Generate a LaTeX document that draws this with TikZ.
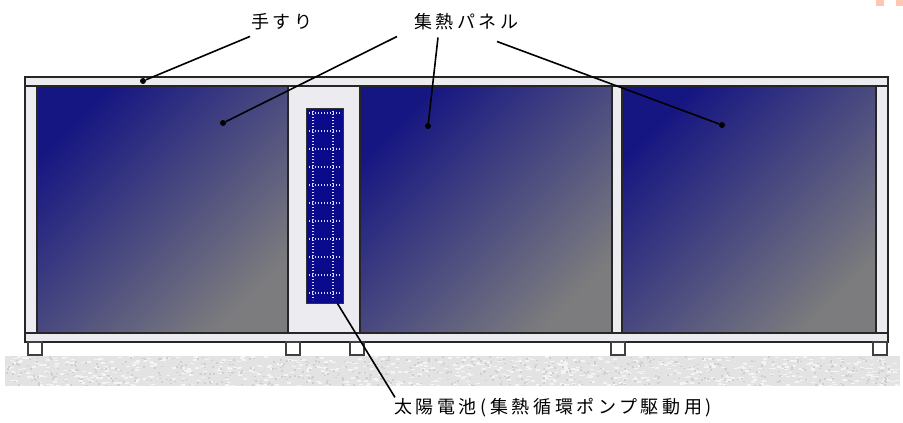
\documentclass[tikz,border=0pt]{standalone}
\usepackage{fontspec}
\newfontfamily\jpfont[LetterSpace=20]{Noto Sans CJK JP}

\definecolor{panelnavy}{RGB}{22,22,130}
\definecolor{panelgray}{RGB}{124,124,126}
\definecolor{framegray}{RGB}{236,236,240}
\definecolor{cellnavy}{RGB}{10,10,140}
\definecolor{tabpeach}{RGB}{255,198,178}

\tikzset{
  frame/.style={draw=black!85, line width=1.5pt, fill=framegray},
  panel/.style={draw=black!85, line width=1.5pt, top color=panelnavy, bottom color=panelgray, shading angle=45},
  foot/.style={draw=black!75, line width=1.5pt, fill=white},
  cellgrid/.style={white!85!blue, line width=1.2pt, dash pattern=on 1.2pt off 1.8pt},
  leader/.style={draw=black, line width=1.6pt},
  pin/.style={circle, fill=black, inner sep=0pt, minimum size=6pt},
  caption/.style={font=\jpfont\fontsize{18}{20}\selectfont, inner sep=1pt, anchor=west},
}

\begin{document}
\begin{tikzpicture}[x=1pt, y=-1pt]
	\useasboundingbox (0,0) rectangle (903,423);
	
	% ground
	\fill[gray!22] (5,356) rectangle (900,386);
	\pgfmathsetseed{42}
	\foreach \k in {1,...,700}{
		\pgfmathsetmacro\gx{5+890*rnd}
		\pgfmathsetmacro\gy{356+29*rnd}
		\fill[white!70!gray!30] (\gx,\gy) rectangle ++(4,1.5);
	}
	\foreach \k in {1,...,600}{
		\pgfmathsetmacro\gx{5+890*rnd}
		\pgfmathsetmacro\gy{356+29*rnd}
		\fill[gray!38] (\gx,\gy) rectangle ++(2,1.5);
	}
	
	% frame
	\draw[frame] (25,77) rectangle (888,86);
	\draw[frame] (25,86) rectangle (37,333);
	\draw[frame] (612,86) rectangle (622,333);
	\draw[frame] (876,86) rectangle (888,333);
	\draw[frame] (288,86) rectangle (360,333);
	\draw[frame] (25,333) rectangle (888,342);
	\foreach \fx in {35,293,357,618,880}
		\draw[foot] (\fx-7,342) rectangle (\fx+7,355);
	
	% collector panels
	\draw[panel] (37,86) rectangle (288,333);
	\draw[panel] (360,86) rectangle (612,333);
	\draw[panel] (622,86) rectangle (876,333);
	
	% solar module
	\node[draw=black!80, fill=cellnavy, line width=0.8pt, minimum width=37pt, minimum height=195pt, inner sep=0pt] (module) at (324.5,205.5) {};
	\foreach \gy in {113,131,...,293}
		\draw[cellgrid] (309,\gy) -- (340,\gy);
	\draw[cellgrid] (313,111) -- (313,300);
	\draw[cellgrid] (333,111) -- (333,300);
	
	% corner tabs
	\fill[tabpeach] (876,0) rectangle (884,6);
	\fill[tabpeach] (896,0) rectangle (903,6);
	
	% labels
	\node[caption] (rail) at (250,22) {手すり};
	\node[caption] (collector) at (413,22) {集熱パネル};
	\node[caption] (cell) at (393,408) {太陽電池(集熱循環ポンプ駆動用)};
	
	\node[pin] (railpin) at (143,81) {};
	\node[pin] (pinA) at (223,123) {};
	\node[pin] (pinB) at (428,126) {};
	\node[pin] (pinC) at (722,125) {};
	
	\draw[leader] ([yshift=-5pt]rail.south west) -- (railpin);
	\draw[leader] ([xshift=-16pt,yshift=-5pt]collector.south west) -- (pinA);
	\draw[leader] ([xshift=25pt,yshift=-6pt]collector.south west) -- (pinB);
	\draw[leader] ([xshift=84pt,yshift=-10pt]collector.south west) -- (pinC);
	\draw[leader] ([xshift=2pt]cell.north west) -- ([xshift=-6pt]module.south east);
\end{tikzpicture}
\end{document}
